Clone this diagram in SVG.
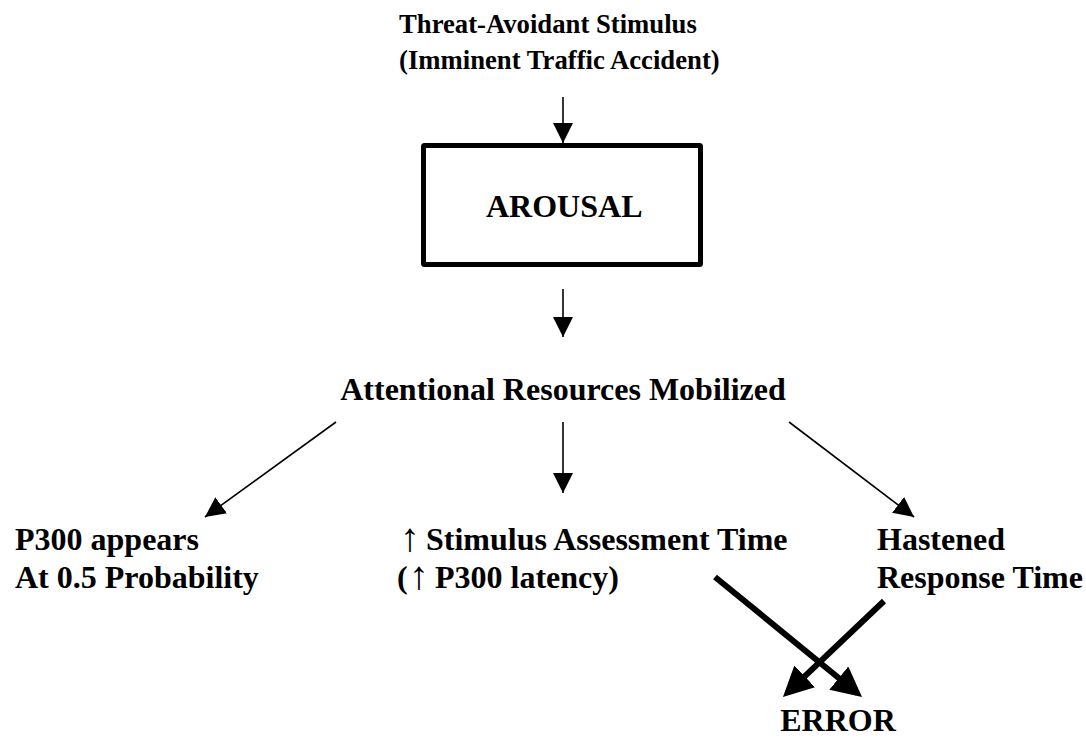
<svg xmlns="http://www.w3.org/2000/svg" width="1086" height="738" viewBox="0 0 1086 738">
<style>
text{font-family:"Liberation Serif","Times New Roman",serif;font-weight:bold;font-size:32px;fill:#000}
.title{font-size:26.7px}
.up{font-weight:normal;font-size:40px}
.thin{stroke:#000;stroke-width:1.6;fill:none;marker-end:url(#ah)}
.thick{stroke:#000;stroke-width:6;fill:none;marker-end:url(#ahb)}
.box{fill:#fff;stroke:#000;stroke-width:5}
</style>
<defs>
<marker id="ah" markerUnits="userSpaceOnUse" markerWidth="20" markerHeight="20" refX="20" refY="10" orient="auto"><path d="M0,0 L20,10 L0,20 z" fill="#000"/></marker>
<marker id="ahb" markerUnits="userSpaceOnUse" markerWidth="30" markerHeight="30" refX="24" refY="15" orient="auto"><path d="M0,0 L30,15 L0,30 z" fill="#000"/></marker>
</defs>
<rect width="1086" height="738" fill="#fff"/>
<g id="stimulus"><text class="title" x="399" y="33">Threat-Avoidant Stimulus</text><text class="title" x="399" y="69">(Imminent Traffic Accident)</text></g>
<g id="arousal"><rect class="box" x="423.5" y="145.5" width="277" height="119" rx="1"/><text x="486" y="217">AROUSAL</text></g>
<g id="attention"><text x="563" y="400" text-anchor="middle">Attentional Resources Mobilized</text></g>
<g id="p300"><text x="15" y="550">P300 appears</text><text x="15" y="588">At 0.5 Probability</text></g>
<g id="assessment"><text x="400" y="551"><tspan class="up">↑</tspan><tspan x="426" y="550">Stimulus Assessment Time</tspan></text><text x="397" y="588">(<tspan class="up" x="409" y="589">↑</tspan><tspan x="435" y="588">P300 latency)</tspan></text></g>
<g id="hastened"><text x="877" y="550">Hastened</text><text x="877" y="588">Response Time</text></g>
<g id="error"><text x="838" y="731" text-anchor="middle">ERROR</text></g>
<g id="connectors">
<line class="thin" x1="563" y1="97" x2="563" y2="143"/>
<line class="thin" x1="563" y1="289" x2="563" y2="337"/>
<line class="thin" x1="336" y1="422" x2="205" y2="517"/>
<line class="thin" x1="563" y1="422" x2="563" y2="493"/>
<line class="thin" x1="789" y1="422" x2="914" y2="517"/>
<line class="thick" x1="715" y1="577" x2="857.4" y2="693.2"/>
<line class="thick" x1="884" y1="601" x2="787.3" y2="692.9"/>
</g>
</svg>
